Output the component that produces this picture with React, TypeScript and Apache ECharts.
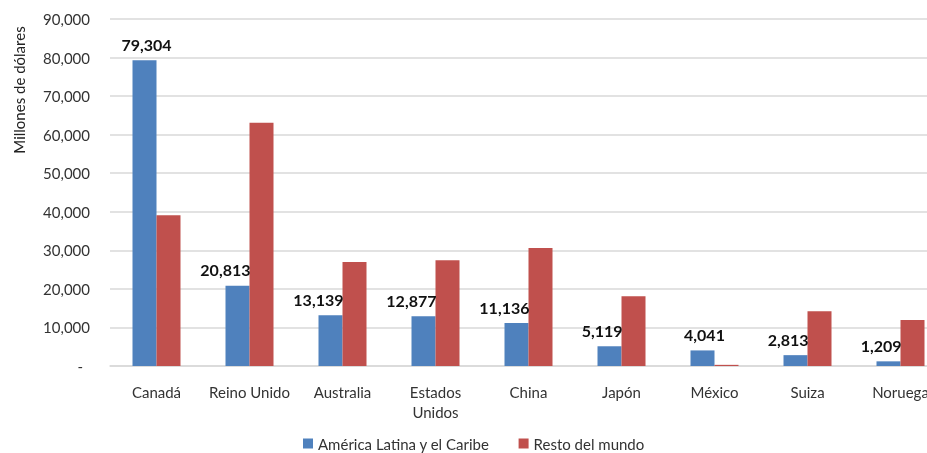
import React, { useEffect, useRef } from "react";
import * as echarts from "echarts";

const categories = ["Canadá", "Reino Unido", "Australia", "Estados\nUnidos", "China", "Japón", "México", "Suiza", "Noruega"];
const latamValues = [79304, 20813, 13139, 12877, 11136, 5119, 4041, 2813, 1209];
const restValues = [39100, 63100, 27000, 27400, 30600, 18100, 300, 14200, 11900];
const seriesNames = ["América Latina y el Caribe", "Resto del mundo"];
const FONT = "Lato, 'Open Sans', sans-serif";

export default function App() {
  const ref = useRef<HTMLDivElement>(null);
  useEffect(() => {
    if (!ref.current) return;
    const chart = echarts.init(ref.current, undefined, { renderer: "svg" });
    const blueData = latamValues.map((v, i) => {
      const centered = restValues[i] < v;
      return {
        value: v,
        label: centered
          ? { align: "center", offset: [2, 0] }
          : { align: "right", offset: [13, 0] },
      };
    });
    chart.setOption({
      animation: false,
      textStyle: { fontFamily: FONT },
      grid: { left: 110, right: 13, top: 19, bottom: 87, containLabel: false },
      legend: {
        left: 298,
        top: 431,
        itemWidth: 10,
        itemHeight: 10,
        itemGap: 29,
        icon: "rect",
        textStyle: { fontFamily: FONT, fontSize: 15, color: "#333" },
        data: seriesNames,
      },
      graphic: [
        {
          type: "text",
          x: 19,
          y: 90,
          rotation: Math.PI / 2,
          style: {
            text: "Millones de dólares",
            font: `15px ${FONT}`,
            fill: "#222",
            textAlign: "center",
            textVerticalAlign: "middle",
          },
        },
      ],
      xAxis: {
        type: "category",
        data: categories,
        axisTick: { show: false },
        axisLine: { show: true, lineStyle: { color: "#d9d9d9", width: 1.5 } },
        axisLabel: { fontFamily: FONT, fontSize: 15, color: "#333", margin: 16, lineHeight: 20, interval: 0 },
      },
      yAxis: {
        type: "value",
        min: 0,
        max: 90000,
        interval: 10000,
        axisLine: { show: false },
        axisTick: { show: false },
        splitLine: { lineStyle: { color: "#d9d9d9", width: 1.5 } },
        axisLabel: {
          fontFamily: FONT,
          fontSize: 15,
          color: "#333",
          margin: 20,
          formatter: (v: number) => (v === 0 ? "{z|-}" : v.toLocaleString("en-US")),
          rich: { z: { fontSize: 15, color: "#333", padding: [0, 7, 0, 0] } },
        },
      },
      series: [
        {
          name: seriesNames[0],
          type: "bar",
          data: blueData,
          barWidth: 24,
          barGap: "0%",
          itemStyle: { color: "#4F81BD" },
          label: {
            show: true,
            position: "top",
            distance: 8,
            fontFamily: FONT,
            fontSize: 16,
            fontWeight: "bold",
            color: "#111",
            formatter: (p: any) => Number(p.value).toLocaleString("en-US"),
          },
        },
        {
          name: seriesNames[1],
          type: "bar",
          data: restValues,
          barWidth: 24,
          barGap: "0%",
          itemStyle: { color: "#C0504D" },
        },
      ],
    });
    return () => chart.dispose();
  }, []);
  return <div ref={ref} style={{ position: "fixed", left: 0, top: 0, width: 960, height: 453 }} />;
}
